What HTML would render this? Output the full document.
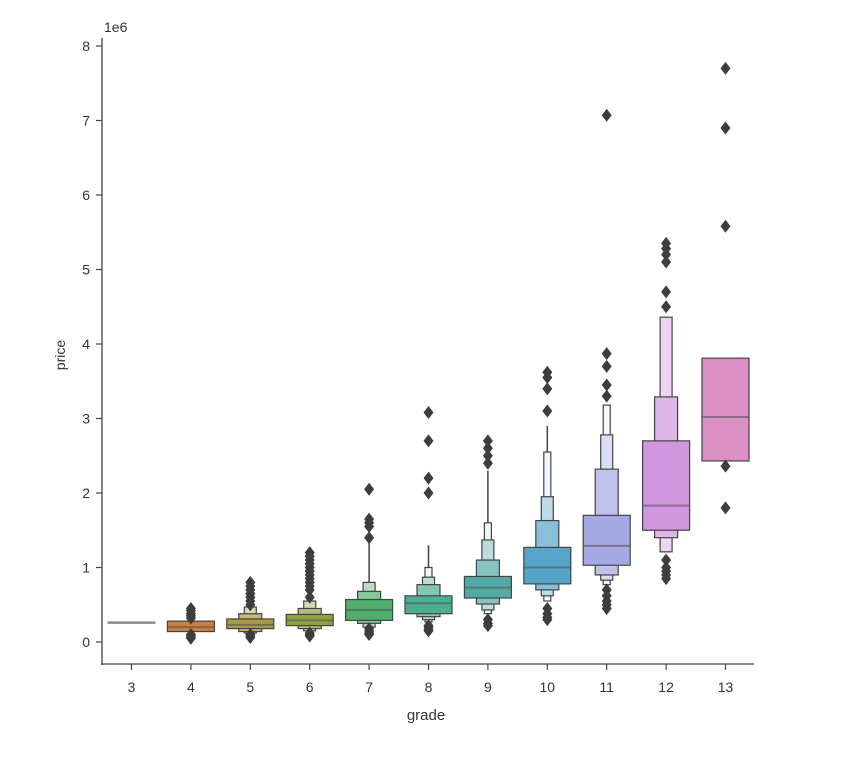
<!DOCTYPE html>
<html><head><meta charset="utf-8"><style>
body{margin:0;background:#fff;}
svg text{font-family:"Liberation Sans",sans-serif;fill:#333;}
</style></head><body>
<svg id="chart" width="846" height="760" xmlns="http://www.w3.org/2000/svg"></svg>
<script>
const categories=["3","4","5","6","7","8","9","10","11","12","13"];
const colors=["#8a8a8a","#c87f3f","#a89a46","#8ea143","#4fae6a","#4daf91","#52aaa6","#56a4c8","#a4a9e3","#d196e0","#db8fc5"];
const medians=[0.26,0.20,0.23,0.29,0.43,0.52,0.73,1.0,1.29,1.83,3.02];
const levelsLo=[[0.26],[0.14],[0.18,0.14,0.12],[0.22,0.18,0.15],[0.29,0.25,0.2],[0.38,0.34,0.3,0.27],[0.59,0.51,0.43,0.38],[0.78,0.70,0.62,0.55],[1.03,0.90,0.83,0.77],[1.50,1.40,1.21],[2.43]];
const levelsHi=[[0.26],[0.28],[0.31,0.38,0.47],[0.37,0.45,0.55],[0.57,0.68,0.8],[0.62,0.77,0.87,1.0],[0.88,1.1,1.37,1.6],[1.27,1.63,1.95,2.55],[1.70,2.32,2.78,3.18],[2.70,3.29,4.36],[3.81]];
const tailHi=[0,0,0,0.9,1.4,1.3,2.3,2.9,0,0,0];
const outliers=[[],[0.45,0.42,0.38,0.35,0.32,0.1,0.08,0.06,0.05],[0.8,0.75,0.7,0.65,0.6,0.55,0.5,0.1,0.08,0.06],[1.2,1.15,1.1,1.05,1.0,0.95,0.9,0.85,0.8,0.75,0.7,0.6,0.12,0.1,0.08],[2.05,1.65,1.6,1.55,1.4,0.18,0.15,0.12,0.1],[3.08,2.7,2.2,2.0,0.22,0.2,0.17,0.15],[2.7,2.6,2.5,2.4,0.3,0.25,0.22],[3.62,3.55,3.4,3.1,0.45,0.38,0.33,0.3],[7.07,3.87,3.7,3.45,3.3,0.7,0.62,0.55,0.5,0.45],[5.35,5.28,5.2,5.1,4.7,4.5,1.1,1.0,0.95,0.9,0.85],[7.7,6.9,5.58,2.36,1.8]];
const yTicks=[0,1,2,3,4,5,6,7,8];
const widths=[47,23,12,7];
const svg=document.getElementById('chart');
const NS='http://www.w3.org/2000/svg';
function X(i){return 131.5+i*59.4;}
function Y(v){return 642-v*74.5;}
function mk(t,a,name){const e=document.createElementNS(NS,t);for(const k in a)e.setAttribute(k,a[k]);


svg.appendChild(e);return e;}
function lighten(hex,f){const n=parseInt(hex.slice(1),16);let r=n>>16,g=(n>>8)&255,b=n&255;
r=Math.round(r+(255-r)*f);g=Math.round(g+(255-g)*f);b=Math.round(b+(255-b)*f);return `rgb(${r},${g},${b})`;}
mk('line',{x1:102,y1:38,x2:102,y2:665,stroke:'#444','stroke-width':1.3},'y-axis-line');
mk('line',{x1:101,y1:664,x2:754,y2:664,stroke:'#444','stroke-width':1.3},'x-axis-line');
yTicks.forEach(t=>{mk('line',{x1:96,y1:Y(t),x2:102,y2:Y(t),stroke:'#444','stroke-width':1.2},'y-tick');
const tx=mk('text',{x:90,y:Y(t)+5,'text-anchor':'end','font-size':14},'y-tick-label');tx.textContent=t;});
categories.forEach((c,i)=>{mk('line',{x1:X(i),y1:664,x2:X(i),y2:670,stroke:'#444','stroke-width':1.2},'x-tick');
const tx=mk('text',{x:X(i),y:692,'text-anchor':'middle','font-size':14},'x-tick-label');tx.textContent=c;});
mk('text',{x:104,y:32,'font-size':14},'y-axis-offset').textContent='1e6';
mk('text',{x:65,y:355,'text-anchor':'middle','font-size':14,transform:'rotate(-90 65 355)'},'y-axis-title').textContent='price';
mk('text',{x:426,y:720,'text-anchor':'middle','font-size':15},'x-axis-title').textContent='grade';
categories.forEach((c,i)=>{
 const lo=levelsLo[i],hi=levelsHi[i],n=lo.length;
 if(i===0){mk('line',{x1:X(i)-24,y1:Y(medians[i]),x2:X(i)+24,y2:Y(medians[i]),stroke:colors[i],'stroke-width':2.5},'box-grade-3');return;}
 if(tailHi[i]>0){mk('line',{x1:X(i),y1:Y(tailHi[i]),x2:X(i),y2:Y(hi[n-1]),stroke:'#444','stroke-width':1.5},'tail-grade-'+c);}
 for(let k=n-1;k>=0;k--){const w=widths[k];
  mk('rect',{x:X(i)-w/2,y:Y(hi[k]),width:w,height:Math.max(1,Y(lo[k])-Y(hi[k])),fill:lighten(colors[i],k*0.3),stroke:'#444','stroke-width':1.2},'box-level-grade-'+c);}
 mk('line',{x1:X(i)-23,y1:Y(medians[i]),x2:X(i)+23,y2:Y(medians[i]),stroke:'#555','stroke-opacity':0.6,'stroke-width':2},'median-grade-'+c);
 outliers[i].forEach(v=>{const y=Y(v),x=X(i);
  mk('polygon',{points:`${x},${y-6.5} ${x+5},${y} ${x},${y+6.5} ${x-5},${y}`,fill:'#3d3d3d'},'outlier-grade-'+c);});
});
</script>
</body></html>
